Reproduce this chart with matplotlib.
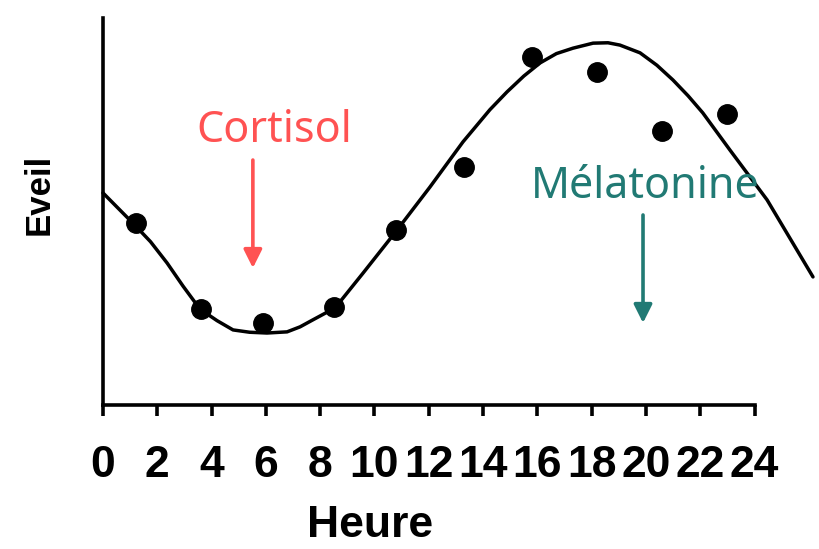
import matplotlib
matplotlib.use("Agg")
import matplotlib.pyplot as plt

# Observed points (heures, éveil - arbitrary units)
point_hours = [1.2, 3.6, 5.9, 8.5, 10.8, 13.3, 15.8, 18.2, 20.6, 23.0]
point_eveil = [47.0, 24.8, 21.2, 25.3, 45.2, 61.5, 89.9, 86.0, 70.8, 75.2]

# Fitted curve
curve_hours = [0.0, 1.1, 1.75, 2.36, 2.95, 3.57, 4.2, 4.79, 5.4, 6.04, 6.78, 7.26, 7.73, 8.55,
               9.58, 10.83, 12.04, 13.26, 13.63, 14.25, 14.88, 15.5, 16.1, 16.7, 17.31, 18.05,
               18.6, 19.04, 19.78, 20.4, 20.99, 21.55, 22.09, 23.09, 24.46, 26.15]
curve_eveil = [54.8, 47.0, 42.2, 36.7, 30.7, 24.8, 21.8, 19.4, 18.8, 18.6, 18.9, 20.2, 22.0, 25.1,
               34.1, 45.2, 56.3, 68.0, 71.1, 76.3, 80.9, 85.0, 88.4, 90.8, 92.2, 93.5,
               93.6, 93.0, 91.0, 87.8, 84.0, 79.9, 75.5, 65.9, 53.0, 33.1]

x_ticks = list(range(0, 25, 2))
x_label = "Heure"
y_label = "Eveil"
ann_cortisol = ("Cortisol", 5.52, 63.3, 35.4, 6.3, 68.0)
ann_melatonine = ("Mélatonine", 19.89, 49.1, 21.2, 19.96, 53.5)

W, H = 820, 549
fig = plt.figure(figsize=(W / 100, H / 100), dpi=100)
x0, px_per_h = 103, 27.15
xmax = 26.3
ax = fig.add_axes([x0 / W, (H - 405) / H, xmax * px_per_h / W, 387 / H])
ax.set_xlim(0, xmax)
ax.set_ylim(0, 100)

ax.plot(curve_hours, curve_eveil, color="black", lw=2.5, solid_capstyle="round",
        solid_joinstyle="round", clip_on=False, zorder=3)
ax.plot(point_hours, point_eveil, "o", color="black", ms=14, zorder=4)

for s in ["top", "right"]:
    ax.spines[s].set_visible(False)
ax.spines["bottom"].set_bounds(0, 24)
ax.spines["bottom"].set_linewidth(2.6)
ax.spines["left"].set_linewidth(2.6)
ax.set_yticks([])
ax.set_xticks(x_ticks)
ax.set_xticklabels([str(t) for t in x_ticks], fontfamily="Liberation Sans",
                   fontweight="bold", fontsize=32)
ax.tick_params(axis="x", length=8, width=2.6, pad=21, direction="out")

fig.text(370 / W, 1 - 537 / H, x_label, ha="center", va="baseline",
         fontfamily="Liberation Sans", fontweight="bold", fontsize=32)
fig.text(39 / W, 1 - 194 / H, y_label, ha="center", va="center", rotation=90,
         fontfamily="Liberation Sans", fontweight="bold", fontsize=25)

for (txt, ax_x, y_start, y_end, tx, ty), col in [(ann_cortisol, "#FF5252"),
                                                 (ann_melatonine, "#217A74")]:
    ax.text(tx, ty, txt, color=col, fontsize=31, fontfamily="Noto Sans",
            ha="center", va="baseline", zorder=5)
    ax.annotate("", xy=(ax_x, y_end), xytext=(ax_x, y_start),
                arrowprops=dict(arrowstyle="-|>,head_length=1.1,head_width=0.55",
                                color=col, lw=2.6, shrinkA=0, shrinkB=0))

fig.savefig("out.png", dpi=100)
